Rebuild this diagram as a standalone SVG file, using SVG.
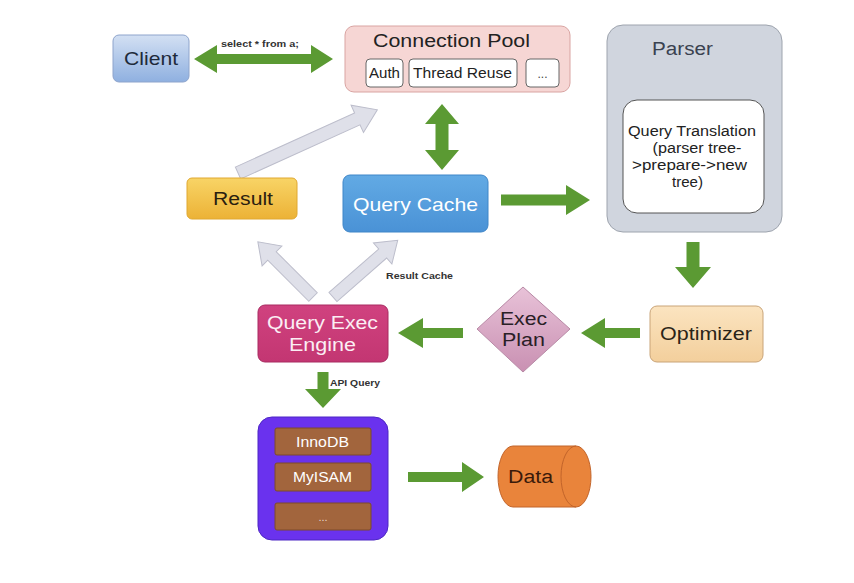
<svg xmlns="http://www.w3.org/2000/svg" width="854" height="583" viewBox="0 0 854 583">
<defs>
<linearGradient id="gClient" x1="0" y1="0" x2="0" y2="1"><stop offset="0" stop-color="#d3e0f3"/><stop offset="1" stop-color="#8fb0e0"/></linearGradient>
<linearGradient id="gQC" x1="0" y1="0" x2="0" y2="1"><stop offset="0" stop-color="#62aae4"/><stop offset="1" stop-color="#4a92d6"/></linearGradient>
<linearGradient id="gRes" x1="0" y1="0" x2="0" y2="1"><stop offset="0" stop-color="#f8d466"/><stop offset="1" stop-color="#ecb236"/></linearGradient>
<linearGradient id="gQE" x1="0" y1="0" x2="0" y2="1"><stop offset="0" stop-color="#d0427f"/><stop offset="1" stop-color="#c33672"/></linearGradient>
<linearGradient id="gOpt" x1="0" y1="0" x2="0" y2="1"><stop offset="0" stop-color="#fbe4c0"/><stop offset="1" stop-color="#f3cf9c"/></linearGradient>
<linearGradient id="gEP" x1="0" y1="0" x2="0" y2="1"><stop offset="0" stop-color="#e8c2d8"/><stop offset="1" stop-color="#c990b2"/></linearGradient>
<style>
text{font-family:"Liberation Sans",Arial,sans-serif;text-anchor:middle}
.green{fill:#5b9a33}
.grey{fill:#dfe0e9;stroke:#bcbdcb;stroke-width:1}
.small{font-size:8.5px;font-weight:bold;fill:#333}
.sub{fill:#fff;stroke:#666;stroke-width:1}
.brown{fill:#a2653d;stroke:#7d4a2a;stroke-width:1}
</style>
</defs>
<g id="connectors">
<polygon class="green" points="194,59 217,45 217,54 311,54 311,45 333,59 311,73 311,64 217,64 217,73"/>
<polygon class="green" points="442,104 459,124 448.5,124 448.5,150 459,150 442,170 425,150 435.5,150 435.5,124 425,124"/>
<polygon class="green" points="501,194.5 566,194.5 566,185 590,200 566,215 566,205.5 501,205.5"/>
<polygon class="green" points="686.5,242 699.5,242 699.5,267 711,267 693,288 675,267 686.5,267"/>
<polygon class="green" points="640,328 605,328 605,318 581,333 605,348 605,338 640,338"/>
<polygon class="green" points="463,328 423,328 423,318 398,333 423,348 423,338 463,338"/>
<polygon class="green" points="317.5,372 328.5,372 328.5,389 341,389 323,408 305,389 317.5,389"/>
<polygon class="green" points="408,472 462,472 462,462 484,477 462,492 462,482 408,482"/>
<path class="grey" transform="translate(238,173) rotate(-24.4)" d="M0,-6.5 L131,-6.5 L131,-15 L153,0 L131,15 L131,6.5 L0,6.5 Z"/>
<path class="grey" transform="translate(313,297) rotate(-135)" d="M0,-6 L58,-6 L58,-14 L78,0 L58,14 L58,6 L0,6 Z"/>
<path class="grey" transform="translate(333,297) rotate(-41.2)" d="M0,-6 L66,-6 L66,-14 L86,0 L66,14 L66,6 L0,6 Z"/>
<text class="small" x="260" y="47" textLength="78" lengthAdjust="spacingAndGlyphs">select * from a;</text>
<text class="small" x="419.5" y="279" textLength="67" lengthAdjust="spacingAndGlyphs">Result Cache</text>
<text class="small" x="355" y="386" textLength="50" lengthAdjust="spacingAndGlyphs">API Query</text>
</g>
<g id="client">
<rect x="113" y="35" width="76" height="47" rx="6" fill="url(#gClient)" stroke="#8ea4cc"/>
<text x="151" y="65" font-size="19" fill="#1e2a3a" textLength="54" lengthAdjust="spacingAndGlyphs">Client</text>
</g>
<g id="connection-pool">
<rect x="345" y="26" width="225" height="66" rx="9" fill="#f6d6d4" stroke="#d9a4a2"/>
<text x="451.5" y="47" font-size="18" fill="#222" textLength="157" lengthAdjust="spacingAndGlyphs">Connection Pool</text>
<rect class="sub" x="366" y="59" width="37" height="28" rx="4"/>
<text x="384.5" y="78" font-size="14" fill="#222" textLength="31" lengthAdjust="spacingAndGlyphs">Auth</text>
<rect class="sub" x="409" y="59" width="108" height="28" rx="4"/>
<text x="462.5" y="78" font-size="14" fill="#222" textLength="99" lengthAdjust="spacingAndGlyphs">Thread Reuse</text>
<rect class="sub" x="526" y="59" width="33" height="28" rx="4"/>
<text x="542.5" y="78" font-size="12" fill="#444">...</text>
</g>
<g id="parser">
<rect x="607" y="25" width="175" height="207" rx="16" fill="#d0d5de" stroke="#9ea4ae"/>
<text x="682.5" y="55" font-size="18" fill="#3a4250" textLength="61" lengthAdjust="spacingAndGlyphs">Parser</text>
<rect x="623" y="100" width="141" height="113" rx="14" fill="#fff" stroke="#555"/>
<text x="692" y="136" font-size="14" fill="#222" textLength="128" lengthAdjust="spacingAndGlyphs">Query Translation</text>
<text x="697" y="153" font-size="14" fill="#222" textLength="89" lengthAdjust="spacingAndGlyphs">(parser tree-</text>
<text x="689.5" y="170" font-size="14" fill="#222" textLength="115" lengthAdjust="spacingAndGlyphs">&gt;prepare-&gt;new</text>
<text x="687.5" y="187" font-size="14" fill="#222" textLength="31" lengthAdjust="spacingAndGlyphs">tree)</text>
</g>
<g id="result">
<rect x="187" y="178" width="110" height="41" rx="5" fill="url(#gRes)" stroke="#e0a830"/>
<text x="243" y="205" font-size="18" fill="#2a2010" textLength="60" lengthAdjust="spacingAndGlyphs">Result</text>
</g>
<g id="query-cache">
<rect x="343" y="175" width="145" height="57" rx="7" fill="url(#gQC)" stroke="#3f86c8"/>
<text x="415.5" y="211" font-size="19" fill="#fff" textLength="125" lengthAdjust="spacingAndGlyphs">Query Cache</text>
</g>
<g id="optimizer">
<rect x="650" y="306" width="113" height="56" rx="7" fill="url(#gOpt)" stroke="#c9a478"/>
<text x="706" y="340" font-size="18" fill="#2a2418" textLength="92" lengthAdjust="spacingAndGlyphs">Optimizer</text>
</g>
<g id="exec-plan">
<polygon points="523,287 570,329 523,372 477,329" fill="url(#gEP)" stroke="#b88aa6"/>
<text x="523.5" y="325" font-size="18" fill="#2a2026" textLength="47" lengthAdjust="spacingAndGlyphs">Exec</text>
<text x="523.5" y="346" font-size="18" fill="#2a2026" textLength="43" lengthAdjust="spacingAndGlyphs">Plan</text>
</g>
<g id="query-exec-engine">
<rect x="258" y="305" width="130" height="57" rx="7" fill="url(#gQE)" stroke="#a82a60"/>
<text x="322.5" y="329" font-size="18" fill="#fbeef4" textLength="111" lengthAdjust="spacingAndGlyphs">Query Exec</text>
<text x="322.5" y="351" font-size="18" fill="#fbeef4" textLength="67" lengthAdjust="spacingAndGlyphs">Engine</text>
</g>
<g id="storage-engines">
<rect x="258" y="417" width="130" height="123" rx="14" fill="#6a32ee" stroke="#4d27c4"/>
<rect class="brown" x="275" y="428" width="96" height="27" rx="2"/>
<text x="322.5" y="447" font-size="14" fill="#fff" textLength="53" lengthAdjust="spacingAndGlyphs">InnoDB</text>
<rect class="brown" x="275" y="463" width="96" height="28" rx="2"/>
<text x="322.5" y="482" font-size="14" fill="#fff" textLength="59" lengthAdjust="spacingAndGlyphs">MyISAM</text>
<rect class="brown" x="275" y="503" width="96" height="27" rx="2"/>
<text x="323" y="521" font-size="11" fill="#e8d8d0">...</text>
</g>
<g id="data">
<path d="M513,446 L576,446 A15,30.5 0 0 1 576,507 L513,507 A15,30.5 0 0 1 513,446 Z" fill="#e9843b" stroke="#c2642a"/>
<path d="M576,446 A15,30.5 0 0 0 576,507" fill="none" stroke="#c2642a"/>
<text x="530.5" y="483" font-size="18" fill="#3a1a0a" textLength="45" lengthAdjust="spacingAndGlyphs">Data</text>
</g>
</svg>
